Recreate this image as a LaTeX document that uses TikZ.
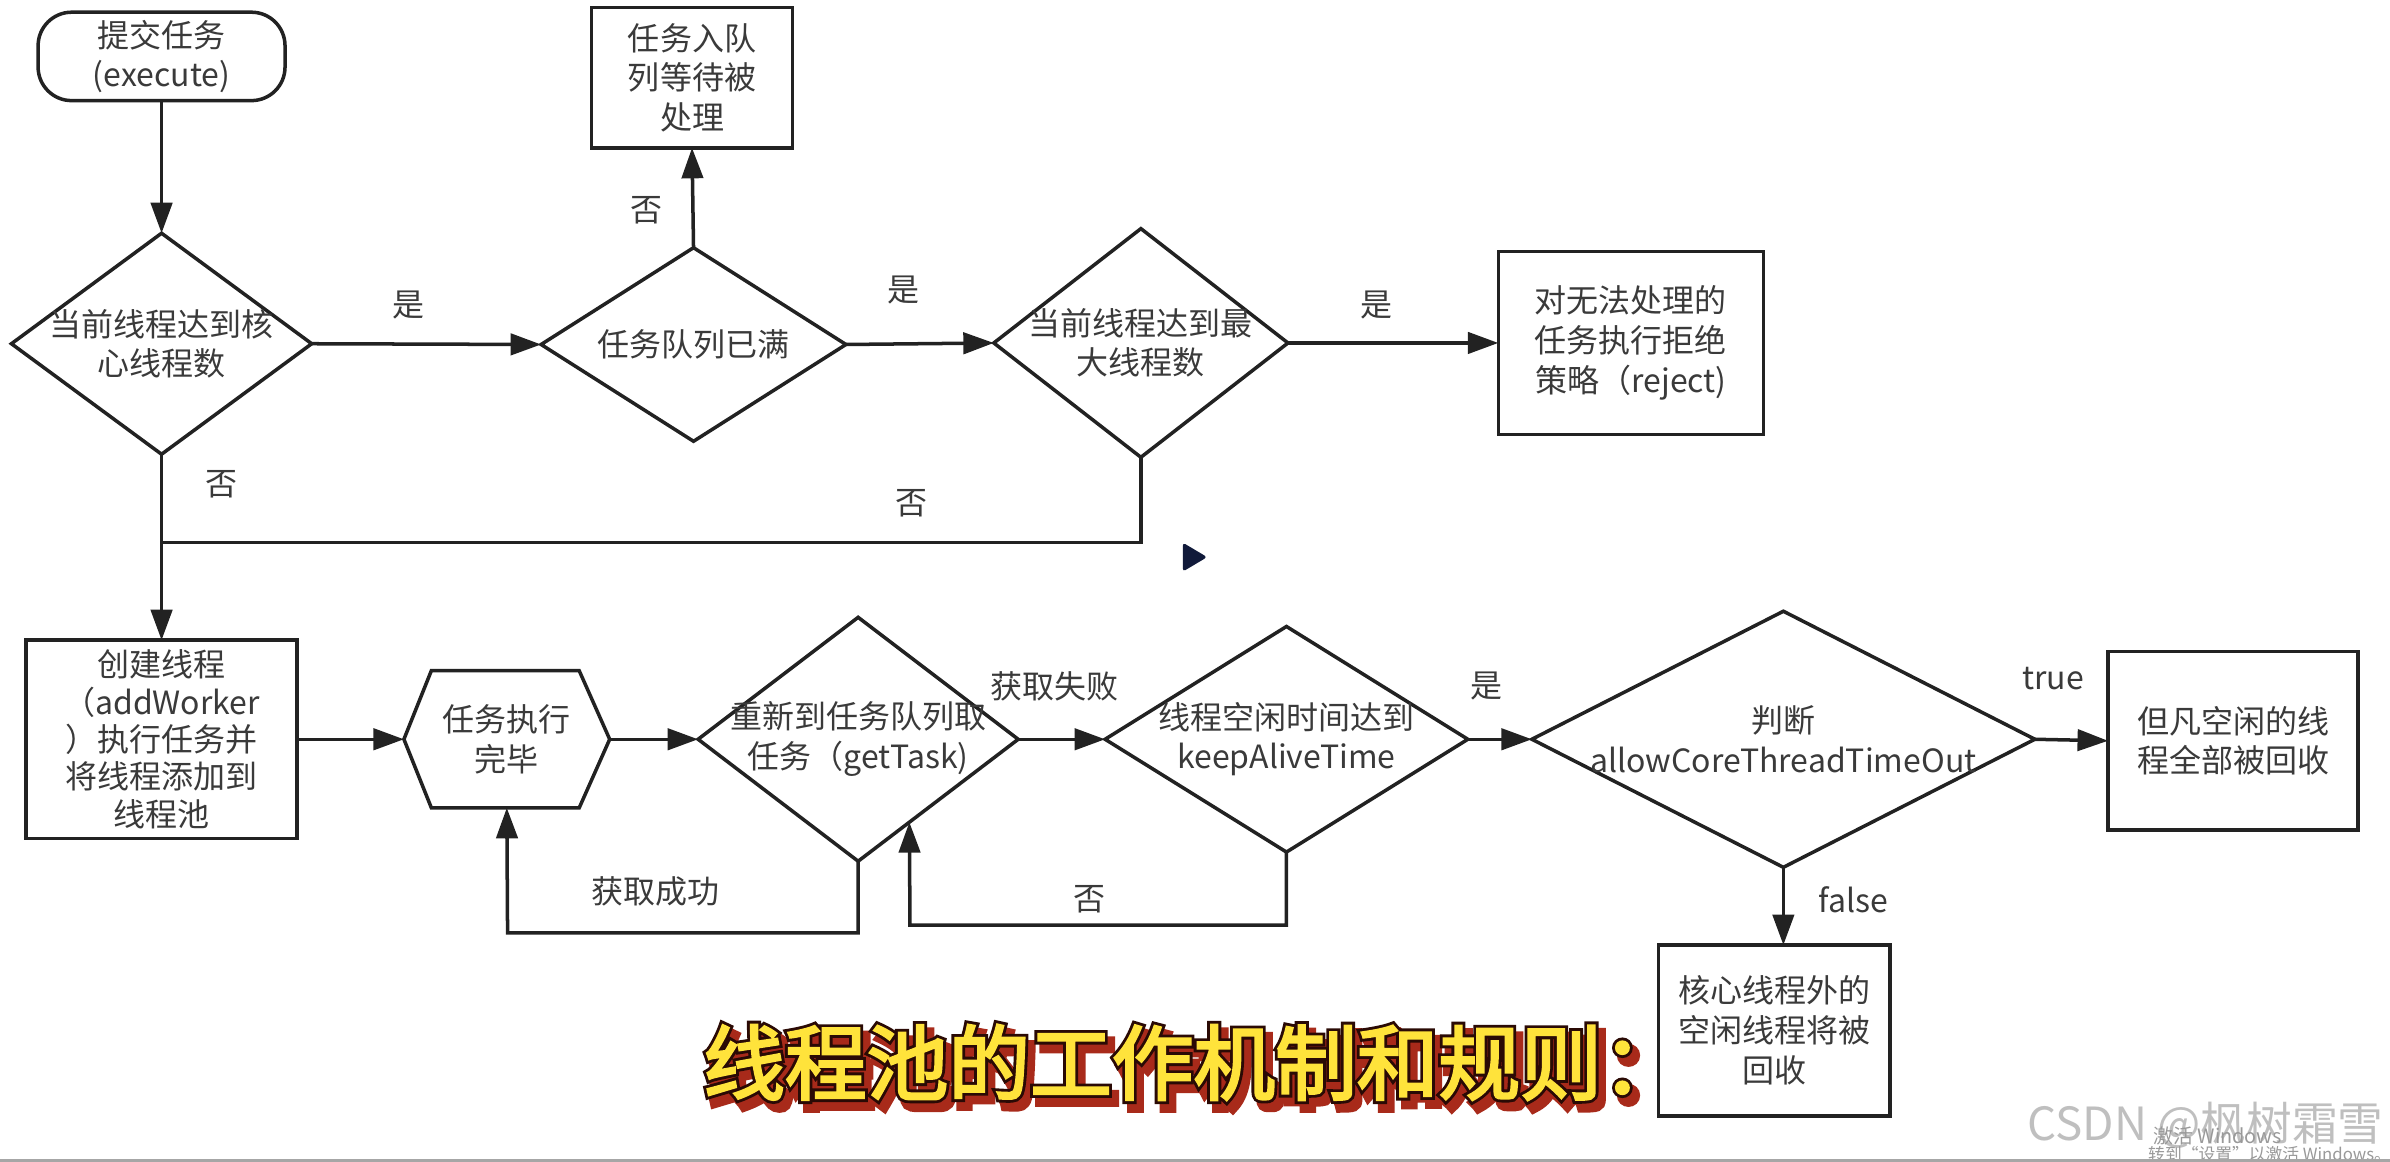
\documentclass[tikz,border=0pt]{standalone}
\usepackage{fontspec}
\setmainfont{Noto Sans CJK SC}
\newfontfamily\titlefont{Noto Sans CJK SC}[FakeBold=3]
\newfontfamily\titleline{Noto Sans CJK SC}[FakeBold=10]
\newfontfamily\titleshadow{Noto Sans CJK SC}[FakeBold=13]
\usetikzlibrary{shapes.geometric,arrows.meta,calc}
\definecolor{linec}{HTML}{222222}
\definecolor{textc}{HTML}{3A3A3A}
\definecolor{tyellow}{HTML}{FFE33B}
\definecolor{tdark}{HTML}{2A0A05}
\definecolor{tred}{HTML}{A82A1A}
\definecolor{navy}{HTML}{111A3A}
\begin{document}
\begin{tikzpicture}[x=0.5pt,y=-0.5pt,
  every node/.style={inner sep=0pt,outer sep=0pt},
  shp/.style={draw=linec,line width=1.15pt},
  boxn/.style={shp,rectangle},
  dia/.style={shp,diamond},
  lbl/.style={font=\fontsize{10.5}{13}\selectfont,text=textc,align=center},
  conn/.style={draw=linec,line width=1.15pt},
  arr/.style={conn,-{Triangle[length=10pt,width=7pt]}},
]
\useasboundingbox (0,0) rectangle (1568,762);

% ---------- top row ----------
\node[boxn,rounded corners=11pt,minimum width=81pt,minimum height=29pt] (st) at (106,37) {};
\node[lbl] (stt) at (st) {提交任务\\(execute)};

\node[dia,minimum width=98.5pt,minimum height=72.5pt] (d1) at (106,225.5) {};
\node[lbl] (d1t) at (d1) {当前线程达到核\\心线程数};

\node[dia,minimum width=100pt,minimum height=63.5pt] (d2) at (455,226) {};
\node[lbl] (d2t) at (d2) {任务队列已满};

\node[boxn,minimum width=66pt,minimum height=46pt] (q) at (454,51) {};
\node[lbl] (qt) at (q) {任务入队\\列等待被\\处理};

\node[dia,minimum width=96.5pt,minimum height=75pt] (d3) at (748.5,225) {};
\node[lbl] (d3t) at (d3) {当前线程达到最\\大线程数};

\node[boxn,minimum width=87pt,minimum height=60pt] (rj) at (1070,225) {};
\node[lbl] (rjt) at (rj) {对无法处理的\\任务执行拒绝\\策略（reject)};

% ---------- bottom row ----------
\node[boxn,minimum width=89pt,minimum height=65pt] (b) at (106,485) {};
\node[lbl,font=\fontsize{10.5}{12.3}\selectfont] (bt) at (b) {创建线程\\（addWorker\\）执行任务并\\将线程添加到\\线程池};

\node[minimum width=67.5pt,minimum height=45pt] (hex) at (332.5,485) {};
\draw[shp] (hex.west) -- ([xshift=9pt]hex.north west) -- ([xshift=-10pt]hex.north east)
  -- (hex.east) -- ([xshift=-10pt]hex.south east) -- ([xshift=9pt]hex.south west) -- cycle;
\node[lbl] (hext) at (hex) {任务执行\\完毕};

\node[dia,minimum width=105pt,minimum height=80pt] (d4) at (563,485) {};
\node[lbl] (d4t) at (d4) {重新到任务队列取\\任务（getTask)};

\node[dia,minimum width=119pt,minimum height=74pt] (d5) at (844,485) {};
\node[lbl] (d5t) at (d5) {线程空闲时间达到\\keepAliveTime};

\node[dia,minimum width=165pt,minimum height=84pt] (d6) at (1170,485) {};
\node[lbl] (d6t) at (d6) {判断\\allowCoreThreadTimeOut};

\node[boxn,minimum width=82pt,minimum height=58.5pt] (tb) at (1465,486) {};
\node[lbl] (tbt) at (tb) {但凡空闲的线\\程全部被回收};

\node[boxn,minimum width=76pt,minimum height=56pt] (fb) at (1164,676) {};
\node[lbl] (fbt) at (fb) {核心线程外的\\空闲线程将被\\回收};

% ---------- connectors ----------
\coordinate (jn) at (106,356);
\coordinate (l1) at (333,612);
\coordinate (l2) at (597,607);
\coordinate (l2t) at ($(d4.south)!0.32!(d4.east)$);

\draw[arr] (st.south) -- (d1.north);
\draw[arr] (d1.east) -- (d2.west);
\draw[arr] (d2.north) -- (q.south);
\draw[arr] (d2.east) -- (d3.west);
\draw[arr] (d3.east) -- (rj.west);
\draw[conn] (d3.south) |- (jn);
\draw[arr] (d1.south) -- (b.north);
\draw[arr] (b.east) -- (hex.west);
\draw[arr] (hex.east) -- (d4.west);
\draw[arr] (d4.east) -- (d5.west);
\draw[arr] (d5.east) -- (d6.west);
\draw[arr] (d6.east) -- (tb.west);
\draw[arr] (d6.south) -- (d6.south |- fb.north);
\draw[arr] (d4.south) |- (l1) -- (hex.south);
\draw[arr] (d5.south) |- (l2) -- (l2t);

% ---------- connector labels ----------
\node[lbl] (la) at (268,200) {是};
\node[lbl] (lb) at (424,138) {否};
\node[lbl] (lc) at (593,190) {是};
\node[lbl] (ld) at (903,200) {是};
\node[lbl] (le) at (145,318) {否};
\node[lbl] (lf) at (598,330) {否};
\node[lbl] (lg) at (692,450) {获取失败};
\node[lbl] (lh) at (975,450) {是};
\node[lbl] (li) at (1347,445) {true};
\node[lbl] (lj) at (1216,590) {false};
\node[lbl] (lk) at (430,585) {获取成功};
\node[lbl] (ll) at (715,590) {否};

% ---------- play icon ----------
\fill[navy,rounded corners=1pt] (776,356) -- (792,365.5) -- (776,375) -- cycle;

% ---------- title ----------
\coordinate (tc) at (783,697);
\node[font=\titleshadow\fontsize{26.8}{30}\selectfont,text=tred] (tsh) at ($(tc)+(4,5)$) {线程池的工作机制和规则：};
\node[font=\titleline\fontsize{26.8}{30}\selectfont,text=tdark] (tol) at (tc) {线程池的工作机制和规则：};
\node[font=\titlefont\fontsize{26.8}{30}\selectfont,text=tyellow] (title) at (tc) {线程池的工作机制和规则：};

% ---------- watermarks ----------
\node[font=\fontsize{15}{17}\selectfont,text=black!25] (wm) at (1447,738) {CSDN @枫树霜雪};
\node[font=\fontsize{6.5}{7}\selectfont,text=black!40] (wa) at (1455,745) {激活 Windows};
\node[font=\fontsize{5.5}{6}\selectfont,text=black!40] (wb) at (1489,757) {转到“设置”以激活 Windows。};
\draw[black!35,line width=1pt] (0,761.5) -- (1568,761.5);
\end{tikzpicture}
\end{document}
